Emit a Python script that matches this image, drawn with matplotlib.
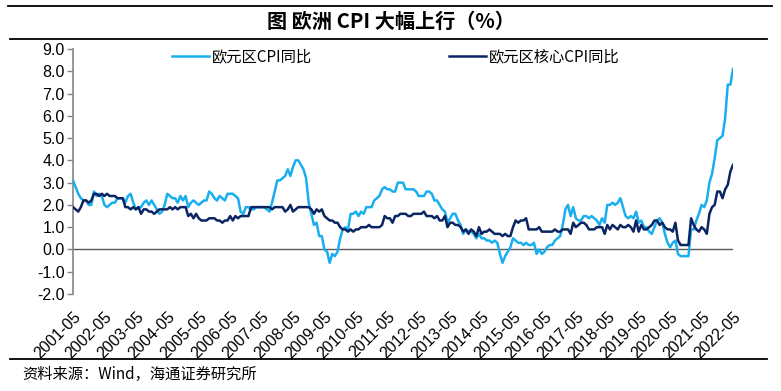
import numpy as np
import matplotlib
matplotlib.use("Agg")
import matplotlib.pyplot as plt
from matplotlib.lines import Line2D

plt.rcParams["font.family"] = ["Liberation Sans", "Noto Sans CJK SC", "DejaVu Sans"]

# monthly data, 2001-05 .. 2022-05
cpi = [
    3.1, 2.8, 2.5, 2.3, 2.2, 2.2, 2.0, 2.0,
    2.6, 2.4, 2.5, 2.4, 2.0, 1.9, 2.0, 2.1, 2.1, 2.3, 2.3, 2.3,
    2.1, 2.4, 2.5, 2.1, 1.8, 1.9, 1.9, 2.1, 2.2, 2.0, 2.2, 2.0,
    1.8, 1.6, 1.7, 2.0, 2.5, 2.4, 2.3, 2.3, 2.1, 2.4, 2.2, 2.4,
    1.9, 2.1, 2.2, 2.1, 2.0, 2.1, 2.2, 2.2, 2.6, 2.5, 2.3, 2.2,
    2.4, 2.3, 2.2, 2.5, 2.5, 2.5, 2.4, 2.3, 1.7, 1.6, 1.9, 1.9,
    1.8, 1.8, 1.9, 1.9, 1.9, 1.9, 1.8, 1.7, 2.1, 2.6, 3.1, 3.1,
    3.2, 3.3, 3.6, 3.3, 3.7, 4.0, 4.0, 3.8, 3.6, 3.2, 2.1, 1.6,
    1.1, 1.2, 0.6, 0.6, 0.0, -0.1, -0.6, -0.2, -0.3, -0.1, 0.5, 0.9,
    1.0, 0.9, 1.6, 1.6, 1.7, 1.5, 1.7, 1.6, 1.9, 1.9, 1.9, 2.2,
    2.3, 2.4, 2.7, 2.8, 2.7, 2.7, 2.6, 2.6, 3.0, 3.0, 3.0, 2.7,
    2.7, 2.7, 2.7, 2.6, 2.4, 2.4, 2.4, 2.6, 2.6, 2.5, 2.2, 2.2,
    2.0, 1.8, 1.7, 1.2, 1.4, 1.6, 1.6, 1.3, 1.1, 0.7, 0.9, 0.8,
    0.8, 0.7, 0.5, 0.7, 0.5, 0.5, 0.4, 0.4, 0.3, 0.4, 0.3, -0.2,
    -0.6, -0.3, -0.1, 0.1, 0.5, 0.4, 0.3, 0.3, 0.2, 0.3, 0.2, 0.2,
    0.3, -0.2, 0.0, -0.2, -0.1, 0.1, 0.2, 0.2, 0.4, 0.5, 0.6, 1.1,
    1.8, 2.0, 1.5, 1.9, 1.4, 1.3, 1.3, 1.5, 1.5, 1.4, 1.5, 1.4,
    1.3, 1.1, 1.4, 1.2, 2.0, 2.0, 2.1, 2.0, 2.1, 2.3, 1.9, 1.5,
    1.4, 1.5, 1.4, 1.7, 1.2, 1.3, 1.0, 1.0, 0.8, 0.7, 1.0, 1.3,
    1.4, 1.2, 0.7, 0.3, 0.1, 0.3, 0.4, -0.2, -0.3, -0.3, -0.3, -0.3,
    0.9, 0.9, 1.3, 1.6, 2.0, 1.9, 2.2, 3.0, 3.4, 4.1, 4.9, 5.0,
    5.1, 5.9, 7.4, 7.4, 8.1,
]
core = [
    1.9, 1.8, 1.7, 1.9, 2.2, 2.2, 2.1, 2.2,
    2.5, 2.5, 2.4, 2.5, 2.4, 2.5, 2.4, 2.4, 2.4, 2.3, 2.3, 2.3,
    1.9, 1.9, 1.8, 1.9, 1.8, 1.9, 1.6, 1.8, 1.8, 1.7, 1.7, 1.6,
    1.7, 1.8, 1.8, 1.8, 1.8, 1.9, 1.8, 1.9, 1.8, 1.9, 1.9, 1.9,
    1.5, 1.6, 1.4, 1.6, 1.4, 1.3, 1.3, 1.3, 1.4, 1.4, 1.4, 1.3,
    1.3, 1.2, 1.3, 1.3, 1.5, 1.3, 1.5, 1.4, 1.5, 1.5, 1.5, 1.5,
    1.9, 1.9, 1.9, 1.9, 1.9, 1.9, 1.9, 1.9, 1.8, 1.9, 1.9, 1.9,
    1.9, 1.7, 1.8, 2.0, 1.7, 1.8, 1.9, 1.9, 1.9, 1.9, 1.9, 1.8,
    1.6, 1.8, 1.7, 1.8, 1.5, 1.4, 1.3, 1.3, 1.2, 1.2, 1.0, 0.9,
    0.9, 0.8, 0.9, 0.8, 0.9, 0.9, 1.0, 1.0, 1.0, 1.1, 1.0, 1.0,
    1.0, 1.0, 1.1, 1.5, 1.4, 1.4, 1.2, 1.5, 1.5, 1.6, 1.6, 1.6,
    1.5, 1.5, 1.6, 1.6, 1.6, 1.6, 1.7, 1.5, 1.5, 1.5, 1.4, 1.5,
    1.3, 1.3, 1.5, 1.0, 1.2, 1.2, 1.1, 1.1, 1.0, 0.8, 0.9, 0.7,
    0.9, 0.8, 0.6, 1.0, 0.7, 0.8, 0.8, 0.9, 0.8, 0.7, 0.7, 0.7,
    0.6, 0.7, 0.6, 0.6, 1.0, 1.3, 1.2, 1.3, 1.3, 1.4, 0.9, 0.9,
    0.9, 0.9, 1.0, 0.8, 0.8, 0.8, 0.8, 0.8, 0.9, 0.8, 0.8, 0.9,
    0.9, 0.9, 0.7, 1.2, 1.0, 1.1, 1.2, 1.2, 1.1, 0.9, 0.9, 0.9,
    1.0, 1.0, 1.0, 0.7, 1.1, 0.9, 1.1, 1.0, 0.9, 1.1, 1.0, 1.0,
    1.1, 1.0, 0.8, 1.3, 0.8, 1.1, 0.9, 0.9, 1.0, 1.1, 1.3, 1.3,
    1.1, 1.2, 1.0, 0.9, 0.9, 0.8, 1.2, 0.4, 0.2, 0.2, 0.2, 0.2,
    1.4, 1.1, 0.9, 0.8, 1.0, 0.9, 0.7, 1.6, 1.9, 2.0, 2.6, 2.6,
    2.3, 2.7, 2.9, 3.5, 3.8,
]
tick_labels = [f"{y}-05" for y in range(2001, 2023)]
y_ticks = list(range(-2, 10))

light_blue = "#19AEEF"
navy = "#0B2462"
grey = "#868686"

fig = plt.figure(figsize=(7.81, 3.91), dpi=100)
ax = fig.add_axes([73 / 781, 1 - 294 / 391, 660 / 781, 245 / 391])

x = np.arange(len(cpi))
ax.plot(x, cpi, color=light_blue, lw=1.8, label="欧元区CPI同比", zorder=3)
ax.plot(x, core, color=navy, lw=1.8, label="欧元区核心CPI同比", zorder=4)
ax.axhline(0, color="#5a5a5a", lw=1.0, zorder=2)

ax.set_xlim(0, len(cpi) - 1)
ax.set_ylim(-2, 9)
ax.set_yticks(y_ticks)
ax.set_yticklabels([f"{v:.1f}" for v in y_ticks], fontsize=11.5)
ax.set_xticks(np.arange(0, len(cpi), 12))
ax.set_xticklabels(tick_labels, rotation=45, ha="right", va="top",
                   rotation_mode="anchor", fontsize=11.5)
ax.tick_params(axis="x", length=0, pad=11)
ax.tick_params(axis="y", length=4, width=1, color=grey, pad=2)
for s in ["top", "right", "bottom"]:
    ax.spines[s].set_visible(False)
ax.spines["left"].set_color(grey)
ax.spines["left"].set_linewidth(1.2)

ax.legend(loc="upper left", bbox_to_anchor=(172 / 781, 1 - 48 / 391),
          bbox_transform=fig.transFigure, ncol=2, frameon=False,
          prop={"family": ["Noto Sans CJK SC", "Liberation Sans"], "size": 11},
          handlelength=2.4, handletextpad=0.2, columnspacing=9.0,
          borderpad=0, borderaxespad=0)

# title and rules
fig.add_artist(Line2D([8 / 781, 772 / 781], [1 - 6 / 391, 1 - 6 / 391], color="black", lw=1.3))
fig.add_artist(Line2D([10 / 781, 767 / 781], [1 - 39 / 391, 1 - 39 / 391], color="black", lw=1.3))
fig.add_artist(Line2D([10 / 781, 767 / 781], [1 - 359 / 391, 1 - 359 / 391], color="black", lw=1.3))
fig.text(0.5, 1 - 21 / 391, "图 欧洲 CPI 大幅上行（%）", ha="center", va="center",
         fontsize=14.5, fontweight="bold", family=["Noto Sans CJK SC", "DejaVu Sans"])
fig.text(22 / 781, 1 - 374 / 391, "资料来源：Wind，海通证券研究所", ha="left", va="center",
         fontsize=11, family=["Noto Sans CJK SC", "DejaVu Sans"])

fig.savefig("out.png", dpi=100)
plt.close(fig)
